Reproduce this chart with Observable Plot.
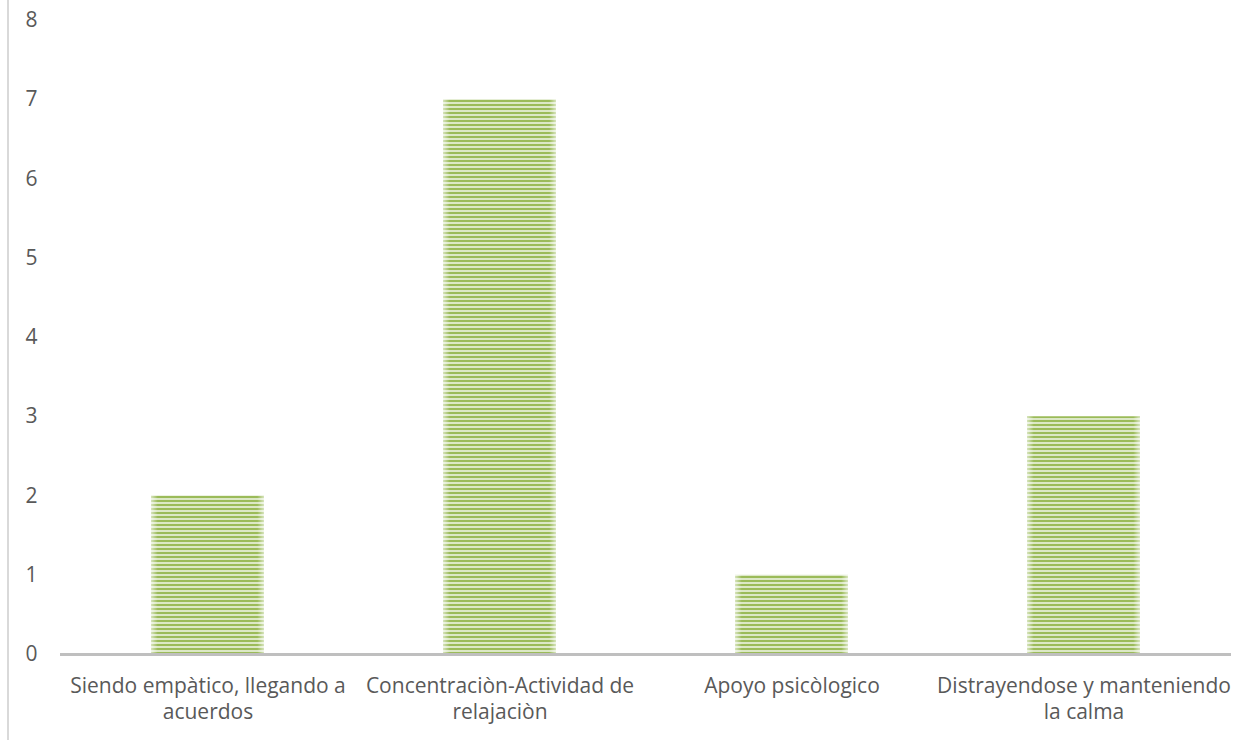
<!DOCTYPE html>
<html>
<head>
<meta charset="utf-8">
<script src="https://cdn.jsdelivr.net/npm/d3@7"></script>
<script src="https://cdn.jsdelivr.net/npm/@observablehq/plot@0.6"></script>
<style>
  html, body { margin: 0; padding: 0; background: #fff; }
  #chart { position: relative; width: 1256px; height: 740px; }
  #chart .border { position: absolute; left: 7px; top: 0; width: 2px; height: 740px; background: #d9d9d9; }
</style>
</head>
<body>
<div id="chart"><div class="border"></div></div>
<script>
const categories = [
  "Siendo empàtico, llegando a acuerdos",
  "Concentraciòn-Actividad de relajaciòn",
  "Apoyo psicòlogico",
  "Distrayendose y manteniendo la calma"
];
const tickLabels = [
  "Siendo empàtico, llegando a\nacuerdos",
  "Concentraciòn-Actividad de\nrelajaciòn",
  "Apoyo psicòlogico",
  "Distrayendose y manteniendo\nla calma"
];
const values = [2, 7, 1, 3];
const yTicks = [0, 1, 2, 3, 4, 5, 6, 7, 8];

const data = categories.map((c, i) => ({category: c, value: values[i]}));
const labelOf = new Map(categories.map((c, i) => [c, tickLabels[i]]));

const chart = Plot.plot({
  width: 1256,
  height: 740,
  marginLeft: 60,
  marginRight: 25,
  marginTop: 20,
  marginBottom: 86,
  style: {fontFamily: "'Open Sans', sans-serif", background: "transparent", overflow: "visible"},
  x: {domain: categories, paddingInner: 0.614, paddingOuter: 0.307},
  y: {domain: [0, 8]},
  marks: [
    Plot.barY(data, {x: "category", y: "value", fill: "url(#stripes)"}),
    Plot.barY(data, {x: "category", y: "value", fill: "url(#edgeGlow)"}),
    Plot.ruleY([0], {stroke: "#bfbfbf", strokeWidth: 3}),
    Plot.axisY({ticks: yTicks, tickSize: 0, tickPadding: 23, fontSize: 21, color: "#595959", label: null, textAnchor: "end"}),
    Plot.axisX({tickSize: 0, tickPadding: 20, fontSize: 21, lineHeight: 1.24, fill: "#595959", label: null, tickFormat: d => labelOf.get(d)})
  ]
});

// pattern & gradient defs
const svg = d3.select(chart);
const defs = svg.insert("defs", ":first-child");
const pat = defs.append("pattern")
  .attr("id", "stripes").attr("patternUnits", "userSpaceOnUse")
  .attr("x", 0).attr("y", 0).attr("width", 8).attr("height", 4);
pat.append("rect").attr("width", 8).attr("height", 4).attr("fill", "#dce8c6");
pat.append("rect").attr("y", 0).attr("width", 8).attr("height", 2).attr("fill", "#9bbb59");
const grad = defs.append("linearGradient").attr("id", "edgeGlow")
  .attr("x1", 0).attr("x2", 1).attr("y1", 0).attr("y2", 0);
grad.append("stop").attr("offset", "0%").attr("stop-color", "#ffffff").attr("stop-opacity", 0.6);
grad.append("stop").attr("offset", "6%").attr("stop-color", "#ffffff").attr("stop-opacity", 0);
grad.append("stop").attr("offset", "94%").attr("stop-color", "#ffffff").attr("stop-opacity", 0);
grad.append("stop").attr("offset", "100%").attr("stop-color", "#ffffff").attr("stop-opacity", 0.6);

chart.style.position = "absolute";
chart.style.left = "0";
chart.style.top = "0";
document.getElementById("chart").appendChild(chart);
</script>
</body>
</html>
